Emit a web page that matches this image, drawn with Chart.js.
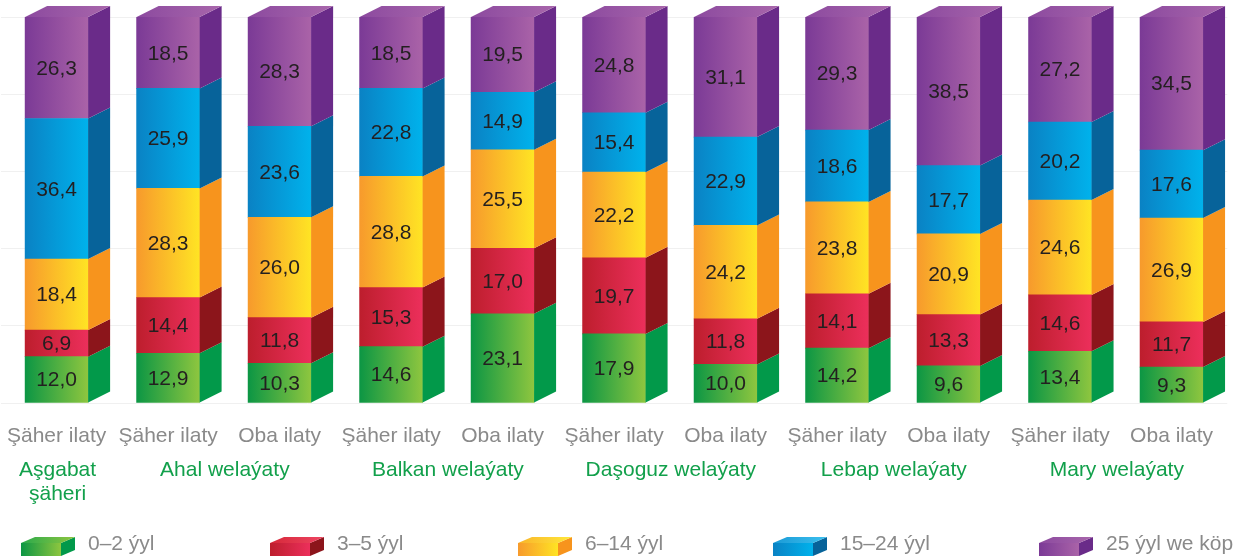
<!DOCTYPE html>
<html>
<head>
<meta charset="utf-8">
<script src="https://cdn.jsdelivr.net/npm/chart.js@4.4.1/dist/chart.umd.min.js"></script>
<style>
  body { margin: 0; background: #fff; overflow: hidden; }
  #wrap { width: 1250px; height: 558px; position: relative; margin-left: -6px; }
</style>
</head>
<body>
<div id="wrap"><canvas id="myChart"></canvas></div>
<script>
// categories (x ticks) and regions that group them
const categories = ['Şäher ilaty', 'Şäher ilaty', 'Oba ilaty', 'Şäher ilaty', 'Oba ilaty', 'Şäher ilaty', 'Oba ilaty', 'Şäher ilaty', 'Oba ilaty', 'Şäher ilaty', 'Oba ilaty'];
const regions = [['Aşgabat', 'şäheri'], ['Ahal welaýaty'], ['Balkan welaýaty'], ['Daşoguz welaýaty'], ['Lebap welaýaty'], ['Mary welaýaty']];
const regionStart = [0, 1, 3, 5, 7, 9];
const regionSize = [1, 2, 2, 2, 2, 2];

const ageGroups = ['0–2 ýyl', '3–5 ýyl', '6–14 ýyl', '15–24 ýyl', '25 ýyl we köp'];
const age0to2 = [12.0, 12.9, 10.3, 14.6, 23.1, 17.9, 10.0, 14.2, 9.6, 13.4, 9.3];
const age3to5 = [6.9, 14.4, 11.8, 15.3, 17.0, 19.7, 11.8, 14.1, 13.3, 14.6, 11.7];
const age6to14 = [18.4, 28.3, 26.0, 28.8, 25.5, 22.2, 24.2, 23.8, 20.9, 24.6, 26.9];
const age15to24 = [36.4, 25.9, 23.6, 22.8, 14.9, 15.4, 22.9, 18.6, 17.7, 20.2, 17.6];
const age25plus = [26.3, 18.5, 28.3, 18.5, 19.5, 24.8, 31.1, 29.3, 38.5, 27.2, 34.5];

const palette = [
    { left: '#0c9644', right: '#8ec63f', side: '#02994a', top: ['#2aa94c', '#8ec63f'] },
    { left: '#bd1e2d', right: '#ec2f5b', side: '#8c151b', top: ['#d62839', '#ee4562'] },
    { left: '#f79a2c', right: '#ffe424', side: '#f7941d', top: ['#f9b52a', '#ffe83a'] },
    { left: '#0a82c4', right: '#00b2ec', side: '#07639a', top: ['#1a9ad6', '#3cc0ef'] },
    { left: '#7b3a96', right: '#aa63a8', side: '#6a2b89', top: ['#8c4a9f', '#a866ab'] },
];

const DX = 22, DY = 11, BAR = 63;
const SHIFT = 6; // canvas is moved 6px left in the page
const FONT = '21px "Liberation Sans", Arial, sans-serif';

const frontFill = (k) => (c) => {
    const ch = c.chart;
    if (!ch.chartArea || c.type !== 'data') return palette[k].left;
    const x = ch.scales.x.getPixelForValue(c.dataIndex);
    const g = ch.ctx.createLinearGradient(x - BAR / 2, 0, x + BAR / 2, 0);
    g.addColorStop(0, palette[k].left);
    g.addColorStop(1, palette[k].right);
    return g;
}

const cube3d = {
    id: 'cube3d',
    afterDatasetsDraw(chart) {
        const ctx = chart.ctx;
        const n = chart.data.datasets.length;
        ctx.save();
        chart.data.datasets.forEach((ds, di) => {
            chart.getDatasetMeta(di).data.forEach((el) => {
                const l = el.x - el.width / 2, r = el.x + el.width / 2;
                const t = Math.min(el.y, el.base), b = Math.max(el.y, el.base);
                ctx.fillStyle = palette[di].side;
                ctx.beginPath();
                ctx.moveTo(r, t);
                ctx.lineTo(r + DX, t - DY);
                ctx.lineTo(r + DX, b - DY);
                ctx.lineTo(r, b);
                ctx.closePath();
                ctx.fill();
                if (di === n - 1) {
                    const g = ctx.createLinearGradient(l, 0, r + DX, 0);
                    g.addColorStop(0, palette[di].top[0]);
                    g.addColorStop(1, palette[di].top[1]);
                    ctx.fillStyle = g;
                    ctx.beginPath();
                    ctx.moveTo(l, t);
                    ctx.lineTo(l + DX, t - DY);
                    ctx.lineTo(r + DX, t - DY);
                    ctx.lineTo(r, t);
                    ctx.closePath();
                    ctx.fill();
                }
            });
        });
        // value labels
        ctx.font = FONT;
        ctx.fillStyle = '#231f20';
        ctx.textAlign = 'center';
        ctx.textBaseline = 'middle';
        chart.data.datasets.forEach((ds, di) => {
            chart.getDatasetMeta(di).data.forEach((el, i) => {
                ctx.fillText(ds.data[i].toFixed(1).replace('.', ','), el.x, (el.y + el.base) / 2 + 1);
            });
        });
        ctx.restore();
    },
    afterDraw(chart) {
        const ctx = chart.ctx;
        const xs = chart.scales.x;
        ctx.save();
        ctx.font = FONT;
        ctx.textAlign = 'center';
        ctx.textBaseline = 'middle';
        ctx.fillStyle = '#12a04b';
        regions.forEach((lines, ri) => {
            const a = regionStart[ri], z = a + regionSize[ri] - 1;
            const cx = (xs.getPixelForValue(a) + xs.getPixelForValue(z)) / 2 + 1;
            lines.forEach((line, li) => ctx.fillText(line, cx, 470 + li * 24));
        });

        // legend
        const legendX = [21, 270, 518, 773, 1039];
        ctx.textAlign = 'left';
        ageGroups.forEach((label, k) => {
            const l = legendX[k] + SHIFT, t = 543, w = 40, h = 13, dx = 14, dy = 6;
            let g = ctx.createLinearGradient(l, 0, l + w, 0);
            g.addColorStop(0, palette[k].left);
            g.addColorStop(1, palette[k].right);
            ctx.fillStyle = g;
            ctx.fillRect(l, t, w, h);
            ctx.fillStyle = palette[k].side;
            ctx.beginPath();
            ctx.moveTo(l + w, t);
            ctx.lineTo(l + w + dx, t - dy);
            ctx.lineTo(l + w + dx, t + h - dy);
            ctx.lineTo(l + w, t + h);
            ctx.closePath();
            ctx.fill();
            g = ctx.createLinearGradient(l, 0, l + w + dx, 0);
            g.addColorStop(0, palette[k].top[0]);
            g.addColorStop(1, palette[k].top[1]);
            ctx.fillStyle = g;
            ctx.beginPath();
            ctx.moveTo(l, t);
            ctx.lineTo(l + dx, t - dy);
            ctx.lineTo(l + w + dx, t - dy);
            ctx.lineTo(l + w, t);
            ctx.closePath();
            ctx.fill();
            ctx.fillStyle = '#8a8a8a';
            ctx.fillText(label, l + 67, 544);
        });
        ctx.restore();
    }
};

const seriesValues = [age0to2, age3to5, age6to14, age15to24, age25plus];

new Chart(document.getElementById('myChart').getContext('2d'), {
    type: 'bar',
    data: {
        labels: categories,
        datasets: ageGroups.map((label, k) => ({
            label: label,
            data: seriesValues[k],
            backgroundColor: frontFill(k),
            borderWidth: 0,
            barThickness: BAR,
        })),
    },
    options: {
        responsive: true,
        maintainAspectRatio: false,
        animation: false,
        layout: { padding: { top: 17, left: 0, right: 16.7, bottom: 0 } },
        plugins: {
            legend: { display: false },
            tooltip: { enabled: false },
        },
        scales: {
            x: {
                stacked: true,
                grid: { display: false },
                border: { display: false },
                ticks: {
                    color: '#8a8a8a',
                    font: { size: 21, family: '"Liberation Sans", Arial, sans-serif' },
                    padding: 13,
                    maxRotation: 0,
                    autoSkip: false,
                },
                afterFit: (s) => { s.height = 155; },
            },
            y: {
                stacked: true,
                min: 0,
                max: 100,
                ticks: { display: false, stepSize: 20 },
                border: { display: false },
                grid: { color: '#f0f0f0', drawTicks: false },
                afterFit: (s) => { s.width = 0; },
            },
        },
    },
    plugins: [cube3d],
});
</script>
</body>
</html>
